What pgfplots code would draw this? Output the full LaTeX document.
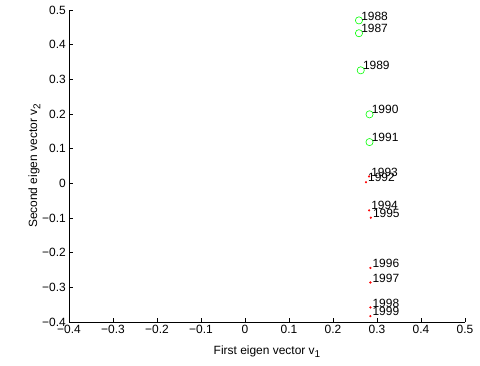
\documentclass[border=0pt]{standalone}
\usepackage{pgfplots}
\pgfplotsset{compat=1.18}
\usepackage{fontspec}
\setmainfont{Liberation Sans}

% Projection of each year onto the first two eigen vectors
\pgfplotstableread{
x      y       year
0.259  0.433   1987
0.259  0.470   1988
0.263  0.326   1989
0.283  0.199   1990
0.283  0.119   1991
}\early
\pgfplotstableread{
x      y       year
0.275  0.003   1992
0.282  0.020   1993
0.282  -0.078  1994
0.286  -0.099  1995
0.285  -0.244  1996
0.285  -0.286  1997
0.285  -0.358  1998
0.285  -0.383  1999
}\late

\begin{document}
\fontsize{12}{14}\selectfont
\begin{tikzpicture}
\begin{axis}[
  scale only axis, width=396bp, height=312bp,
  xmin=-0.4, xmax=0.5, ymin=-0.4, ymax=0.5,
  axis lines=left, axis line style={-, black, line width=0.5pt},
  tick align=inside, major tick length=4bp,
  tick style={black, line width=0.5pt},
  xtick={-0.4,-0.3,-0.2,-0.1,0,0.1,0.2,0.3,0.4,0.5},
  ytick={-0.4,-0.3,-0.2,-0.1,0,0.1,0.2,0.3,0.4,0.5},
  xticklabels={−0.4,−0.3,−0.2,−0.1,0,0.1,0.2,0.3,0.4,0.5},
  yticklabels={−0.4,−0.3,−0.2,−0.1,0,0.1,0.2,0.3,0.4,0.5},
  ticklabel style={font=\fontsize{12}{14}\selectfont},
  xticklabel style={yshift=1bp},
  yticklabel style={xshift=1bp},
  xlabel={First eigen vector v\raisebox{-0.55ex}{\fontsize{10}{12}\selectfont 1}},
  ylabel={Second eigen vector v\raisebox{-0.55ex}{\fontsize{10}{12}\selectfont 2}},
  xlabel style={at={(axis description cs:0.5,-0.1026)}, anchor=base, font=\fontsize{12}{14}\selectfont},
  ylabel style={at={(axis description cs:-0.0808,0.5)}, anchor=base, font=\fontsize{12}{14}\selectfont},
  nodes near coords style={anchor=west, inner sep=0pt, xshift=2bp, yshift=4.5bp,
    font=\fontsize{12}{14}\selectfont, text=black},
  clip=false,
]
\addplot[only marks, mark=o, mark size=3.6bp, draw={rgb,1:red,0;green,1;blue,0}, line width=0.6pt,
  nodes near coords, point meta=explicit symbolic]
  table[x=x, y=y, meta=year] {\early};
\addplot[only marks, mark=*, mark size=0.9bp, draw=red, fill=red,
  nodes near coords, point meta=explicit symbolic]
  table[x=x, y=y, meta=year] {\late};
\end{axis}
\pgfresetboundingbox
\path[use as bounding box] ([xshift=-69bp,yshift=-43bp]current axis.south west)
  rectangle ([xshift=15bp,yshift=10bp]current axis.north east);
\end{tikzpicture}
\end{document}
